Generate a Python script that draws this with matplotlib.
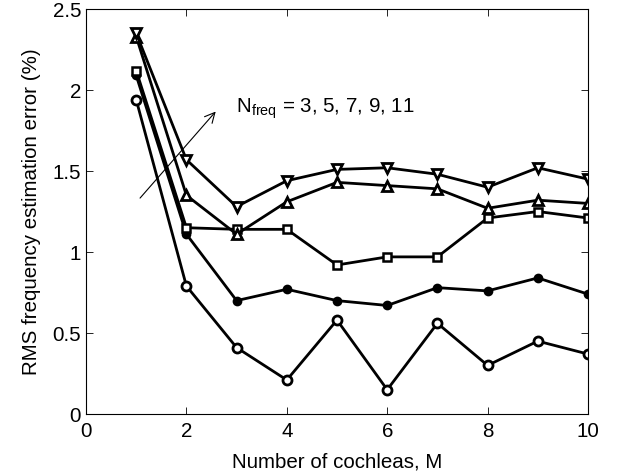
import numpy as np
import matplotlib
matplotlib.use("Agg")
import matplotlib.pyplot as plt

plt.rcParams['font.family'] = ['Liberation Sans', 'DejaVu Sans']

# Number of cochleas
M = [1, 2, 3, 4, 5, 6, 7, 8, 9, 10]

# RMS error (%) for each N_freq
err_n3 = [1.94, 0.79, 0.41, 0.21, 0.58, 0.15, 0.56, 0.30, 0.45, 0.37]
err_n5 = [2.09, 1.11, 0.70, 0.77, 0.70, 0.67, 0.78, 0.76, 0.84, 0.74]
err_n7 = [2.12, 1.15, 1.14, 1.14, 0.92, 0.97, 0.97, 1.21, 1.25, 1.21]
err_n9 = [2.33, 1.35, 1.11, 1.31, 1.43, 1.41, 1.39, 1.27, 1.32, 1.30]
err_n11 = [2.35, 1.57, 1.28, 1.44, 1.51, 1.52, 1.48, 1.40, 1.52, 1.45]

fs = 14.8

fig = plt.figure(figsize=(6.17, 4.75), dpi=100)
ax = fig.add_axes([0.1394, 0.1284, 0.8136, 0.8526])

lw = 2.0
ax.plot(M, err_n3, '-o', color='k', lw=lw, ms=6.5, mfc='white', mew=2.0)
ax.plot(M, err_n5, '-o', color='k', lw=lw, ms=5.5, mfc='k', mew=1.5)
ax.plot(M, err_n7, '-s', color='k', lw=lw, ms=5.5, mfc='white', mew=1.8)
ax.plot(M, err_n9, '-^', color='k', lw=lw, ms=7.5, mfc='white', mew=2.0)
ax.plot(M, err_n11, '-v', color='k', lw=lw, ms=7.5, mfc='white', mew=2.0)

# arrow + annotation
ax.annotate('', xy=(2.62, 1.88), xytext=(1.04, 1.32),
            arrowprops=dict(arrowstyle='->', color='k', lw=0.8, mutation_scale=18))
ax.text(2.98, 1.86, r'N$_{\mathregular{freq}}$ = 3, 5, 7, 9, 11', fontsize=fs)

ax.set_xlim(0, 10)
ax.set_ylim(0, 2.5)
ax.set_xticks([0, 2, 4, 6, 8, 10])
ax.set_yticks([0, 0.5, 1, 1.5, 2, 2.5])
ax.set_yticklabels(['0', '0.5', '1', '1.5', '2', '2.5'])
ax.tick_params(direction='in', top=True, right=True, labelsize=fs, length=5, width=0.6)
ax.tick_params(axis='x', pad=6)
for s in ax.spines.values():
    s.set_linewidth(0.8)

ax.set_xlabel('Number of cochleas, M', fontsize=fs, labelpad=8)
ax.set_ylabel('RMS frequency estimation error (%)', fontsize=fs, labelpad=8)

fig.savefig('out.png', dpi=100)
